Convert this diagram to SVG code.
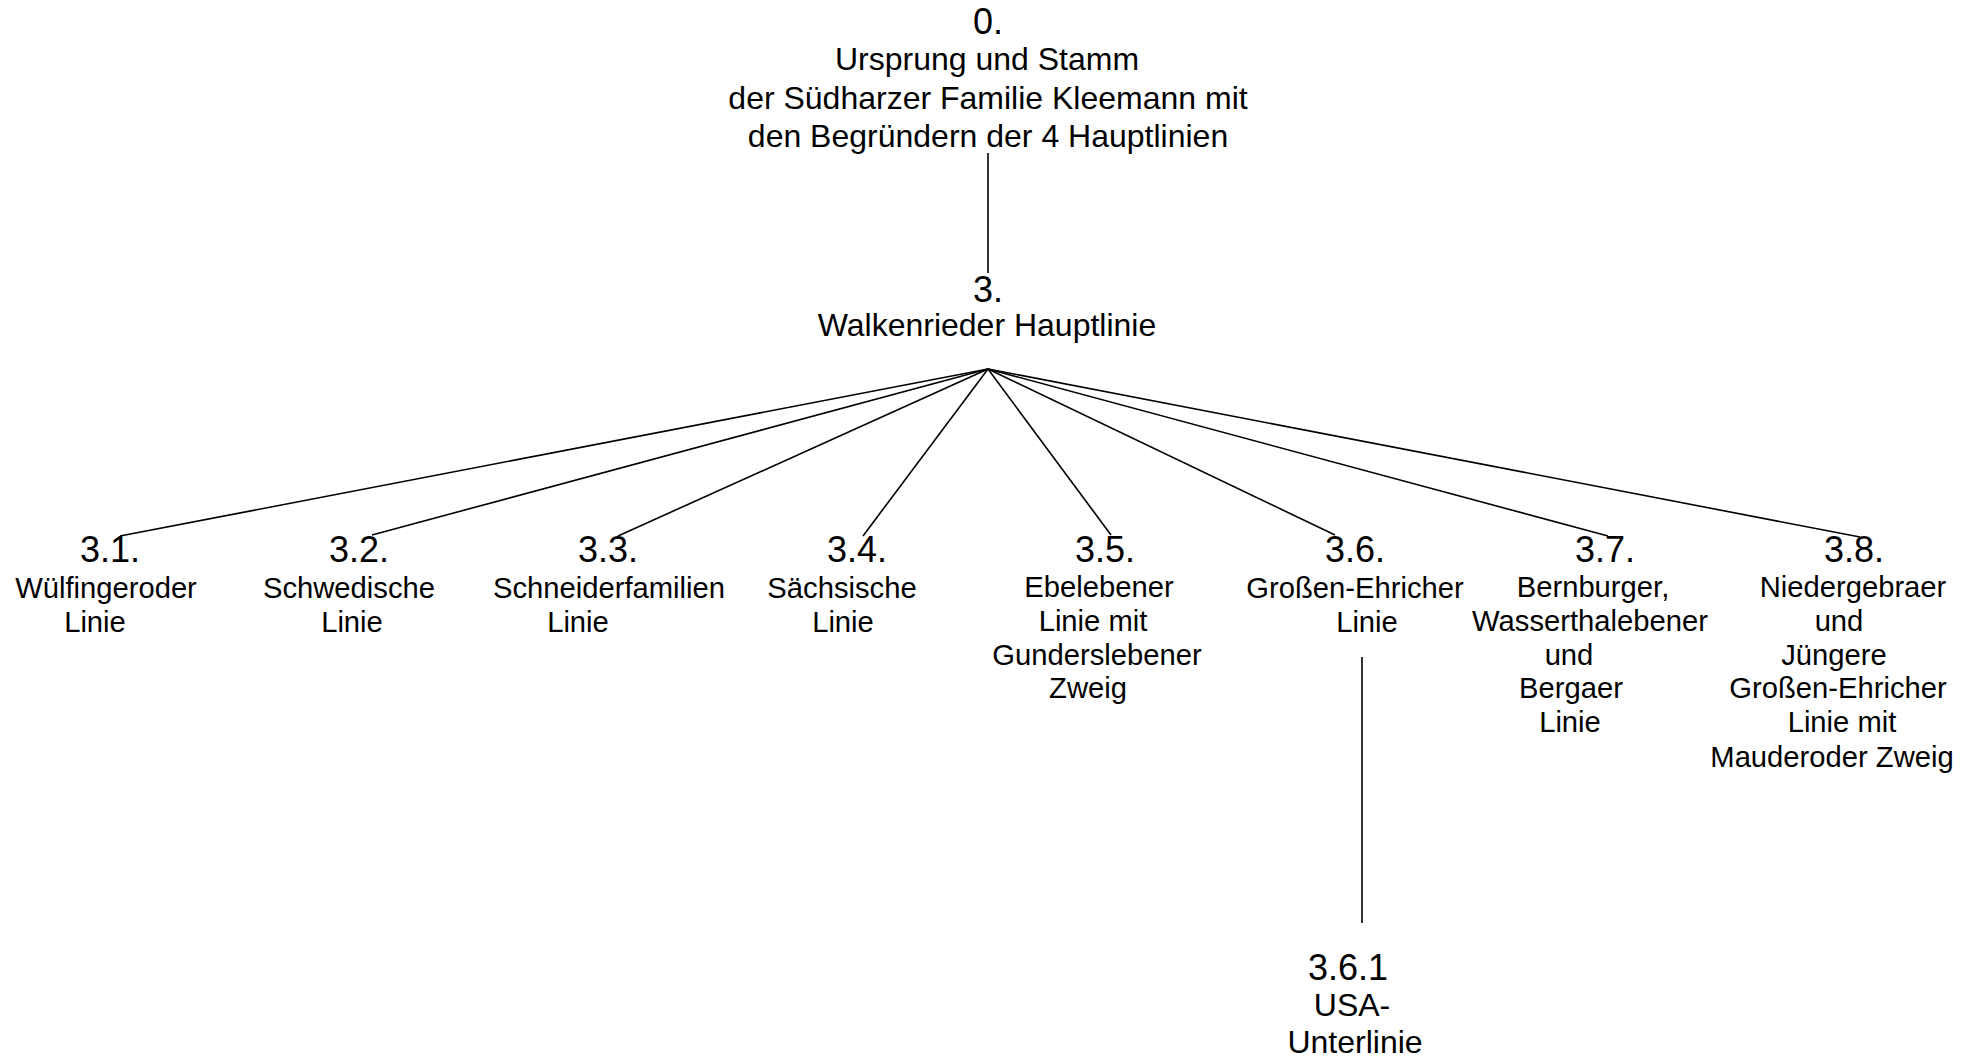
<svg xmlns="http://www.w3.org/2000/svg" width="1977" height="1056" viewBox="0 0 1977 1056">
<style>
text{font-family:"Liberation Sans",Arial,sans-serif;fill:#000;text-anchor:middle}
.n{font-size:36px}
.t{font-size:32px}
.c{font-size:29.2px}
.e{stroke:#000;stroke-width:1.6;fill:none}
</style>
<rect width="1977" height="1056" fill="#fff"/>
<g id="connectors">
<line class="e" x1="988" y1="153" x2="988" y2="273"/>
<line class="e" x1="988" y1="369" x2="120" y2="536"/>
<line class="e" x1="988" y1="369" x2="372" y2="535"/>
<line class="e" x1="988" y1="369" x2="618" y2="536"/>
<line class="e" x1="988" y1="369" x2="863" y2="536"/>
<line class="e" x1="988" y1="369" x2="1111" y2="535"/>
<line class="e" x1="988" y1="369" x2="1335" y2="535"/>
<line class="e" x1="988" y1="369" x2="1608" y2="536"/>
<line class="e" x1="988" y1="369" x2="1860" y2="537"/>
<line class="e" x1="1362" y1="657" x2="1362" y2="923"/>
</g>
<g id="node-0">
<text class="n" x="988" y="34">0.</text>
<text class="t" x="987" y="70">Ursprung und Stamm</text>
<text class="t" x="988" y="108.5">der Südharzer Familie Kleemann mit</text>
<text class="t" x="988" y="147">den Begründern der 4 Hauptlinien</text>
</g>
<g id="node-3">
<text class="n" x="988" y="302">3.</text>
<text class="t" x="987" y="336">Walkenrieder Hauptlinie</text>
</g>
<g id="node-3-1">
<text class="n" x="110" y="562">3.1.</text>
<text class="c" x="106" y="598">Wülfingeroder</text>
<text class="c" x="95" y="632">Linie</text>
</g>
<g id="node-3-2">
<text class="n" x="359" y="562">3.2.</text>
<text class="c" x="349" y="598">Schwedische</text>
<text class="c" x="352" y="632">Linie</text>
</g>
<g id="node-3-3">
<text class="n" x="608" y="562">3.3.</text>
<text class="c" x="609" y="598">Schneiderfamilien</text>
<text class="c" x="578" y="632">Linie</text>
</g>
<g id="node-3-4">
<text class="n" x="857" y="562">3.4.</text>
<text class="c" x="842" y="598">Sächsische</text>
<text class="c" x="843" y="632">Linie</text>
</g>
<g id="node-3-5">
<text class="n" x="1105" y="562">3.5.</text>
<text class="c" x="1099" y="597">Ebelebener</text>
<text class="c" x="1093" y="631">Linie mit</text>
<text class="c" x="1097" y="665">Gunderslebener</text>
<text class="c" x="1088" y="698">Zweig</text>
</g>
<g id="node-3-6">
<text class="n" x="1355" y="562">3.6.</text>
<text class="c" x="1355" y="598">Großen-Ehricher</text>
<text class="c" x="1367" y="632">Linie</text>
</g>
<g id="node-3-7">
<text class="n" x="1605" y="562">3.7.</text>
<text class="c" x="1593" y="597">Bernburger,</text>
<text class="c" x="1590" y="631">Wasserthalebener</text>
<text class="c" x="1569" y="665">und</text>
<text class="c" x="1571" y="698">Bergaer</text>
<text class="c" x="1570" y="732">Linie</text>
</g>
<g id="node-3-8">
<text class="n" x="1854" y="562">3.8.</text>
<text class="c" x="1853" y="597">Niedergebraer</text>
<text class="c" x="1839" y="631">und</text>
<text class="c" x="1834" y="665">Jüngere</text>
<text class="c" x="1838" y="698">Großen-Ehricher</text>
<text class="c" x="1842" y="732">Linie mit</text>
<text class="c" x="1832" y="767">Mauderoder Zweig</text>
</g>
<g id="node-3-6-1">
<text class="n" x="1348" y="979.5">3.6.1</text>
<text class="t" x="1352" y="1015.5">USA-</text>
<text class="t" x="1355" y="1052.5">Unterlinie</text>
</g>
</svg>
